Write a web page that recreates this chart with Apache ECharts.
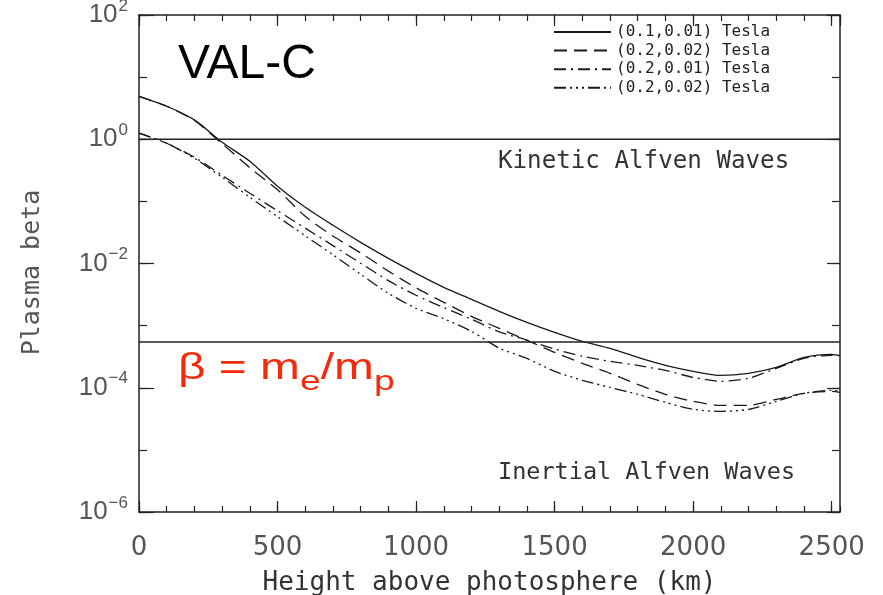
<!DOCTYPE html>
<html>
<head>
<meta charset="utf-8">
<script src="https://cdn.jsdelivr.net/npm/echarts@6/dist/echarts.min.js"></script>
<style>
  html, body { margin: 0; padding: 0; background: #fff; }
  #chart { width: 883px; height: 595px; }
</style>
</head>
<body>
<div id="chart"></div>
<script>
// Height above the photosphere (km)
const heights = [0, 100, 200, 300, 400, 500, 600, 700, 800, 900, 1000, 1100, 1200,
  1300, 1400, 1500, 1600, 1700, 1800, 1900, 2000, 2100, 2200, 2300, 2400, 2500, 2530];

// Plasma beta along the VAL-C atmosphere for each (photospheric, coronal) field pair
const beta_01_001 = [4.9, 3.4, 2.05, 0.895, 0.442, 0.175, 0.0803, 0.0412, 0.0219, 0.0121,
  0.00695, 0.00414, 0.00265, 0.0017, 0.00113, 7.8e-4, 5.58e-4, 4.31e-4, 3.08e-4, 2.29e-4,
  1.84e-4, 1.58e-4, 1.71e-4, 2.13e-4, 3.08e-4, 3.45e-4, 3.26e-4];
const beta_02_002 = [4.9, 3.4, 2.0, 0.847, 0.348, 0.154, 0.0575, 0.0277, 0.0148, 0.00755,
  0.00406, 0.00237, 0.00141, 9.06e-4, 5.8e-4, 3.71e-4, 2.47e-4, 1.71e-4, 1.13e-4, 7.83e-5,
  6.04e-5, 5.21e-5, 5.21e-5, 6.5e-5, 8.13e-5, 8.75e-5, 8.43e-5];
const beta_02_001 = [1.25, 0.862, 0.513, 0.263, 0.135, 0.0706, 0.0371, 0.0194, 0.0101, 0.00529,
  0.00308, 0.00195, 0.00127, 7.94e-4, 5.85e-4, 4.2e-4, 3.21e-4, 2.66e-4, 2.29e-4, 1.9e-4,
  1.47e-4, 1.27e-4, 1.42e-4, 2.05e-4, 2.97e-4, 3.33e-4, 3.33e-4];
const beta_02_002b = [1.25, 0.862, 0.494, 0.244, 0.1164, 0.0567, 0.0279, 0.0138, 0.0067, 0.00331,
  0.0019, 0.00129, 8.09e-4, 4.36e-4, 2.97e-4, 1.84e-4, 1.32e-4, 1.01e-4, 7.83e-5, 5.82e-5,
  4.49e-5, 4.17e-5, 4.49e-5, 6.04e-5, 8.13e-5, 9.08e-5, 8.75e-5];

const seriesNames = ['(0.1,0.01) Tesla', '(0.2,0.02) Tesla', '(0.2,0.01) Tesla', '(0.2,0.02) Tesla '];
const seriesValues = [beta_01_001, beta_02_002, beta_02_001, beta_02_002b];
const seriesDash = ['solid', [13, 7], [12, 5, 2, 5], [12, 4, 2, 4, 2, 4, 2, 4]];

// Regime boundaries: beta = 1 and beta = m_e / m_p
const betaLines = [1, 1 / 1836.15];

const xTicks = { min: 0, max: 2530, major: 500, minor: 100 };
const yTicks = { min: 1e-6, max: 1e2 };

const INK = '#222';
const GREY = '#555';

function xAxis(position, interval, tickLen, withLabels) {
  return {
    type: 'value', position: position, min: xTicks.min, max: xTicks.max, interval: interval,
    axisLine: { show: tickLen > 8, onZero: false, lineStyle: { color: INK, width: 1.5 } },
    axisTick: { show: true, inside: true, length: tickLen, lineStyle: { color: INK, width: 1.2 } },
    axisLabel: withLabels ? {
      show: true, margin: 23, fontFamily: 'DejaVu Sans', fontSize: 26, color: GREY, showMaxLabel: false,
      formatter: function (v) { return String(v); }
    } : { show: false },
    splitLine: { show: false }
  };
}

function yAxis(position, interval, tickLen, withLabels) {
  return {
    type: 'log', logBase: 10, position: position, min: yTicks.min, max: yTicks.max, interval: interval,
    axisLine: { show: tickLen > 10, onZero: false, lineStyle: { color: INK, width: 1.5 } },
    axisTick: { show: true, inside: true, length: tickLen, lineStyle: { color: INK, width: 1.2 } },
    axisLabel: withLabels ? {
      show: true, margin: 11,
      formatter: function (v) {
        const e = Math.round(Math.log10(v));
        if (e % 2 !== 0) return '';
        return '{b|10}{s|' + (e < 0 ? '\u2212' + (-e) : e) + '}';
      },
      rich: {
        b: { fontFamily: 'Liberation Sans', fontSize: 26, color: GREY },
        s: { fontFamily: 'Liberation Sans', fontSize: 17, color: GREY, padding: [0, 0, 18, 1] }
      }
    } : { show: false },
    splitLine: { show: false }
  };
}

const chart = echarts.init(document.getElementById('chart'));

const xAxes = [
  xAxis('bottom', xTicks.major, 11, true),
  xAxis('bottom', xTicks.minor, 6, false),
  xAxis('top', xTicks.major, 11, false),
  xAxis('top', xTicks.minor, 6, false)
];
Object.assign(xAxes[0], {
  name: 'Height above photosphere (km)', nameLocation: 'middle', nameGap: 58,
  nameTextStyle: { fontFamily: 'DejaVu Sans Mono', fontSize: 26, color: '#333' }
});

const yAxes = [
  yAxis('left', 2, 15, true),
  yAxis('left', 1, 8, false),
  yAxis('right', 2, 13, false),
  yAxis('right', 1, 8, false)
];
Object.assign(yAxes[0], {
  name: 'Plasma beta', nameLocation: 'middle', nameGap: 94, nameRotate: 90,
  nameTextStyle: { fontFamily: 'DejaVu Sans Mono', fontSize: 25, color: GREY, padding: [0, 18, 0, 0] }
});

const curveSeries = seriesNames.map(function (name, i) {
  return {
    type: 'line', name: name, xAxisIndex: 0, yAxisIndex: 0,
    data: heights.map(function (h, j) { return [h, seriesValues[i][j]]; }),
    symbol: 'none', showSymbol: false, smooth: 0.25,
    lineStyle: { color: '#1a1a1a', width: 1.3, type: seriesDash[i] },
    itemStyle: { color: '#1a1a1a', opacity: 0 },
    emphasis: { disabled: true }
  };
});

// Horizontal boundary lines across the full height range
const boundarySeries = betaLines.map(function (v, i) {
  return {
    type: 'line', name: 'boundary' + i, xAxisIndex: 0, yAxisIndex: 0,
    data: [[xTicks.min, v], [xTicks.max, v]],
    symbol: 'none', showSymbol: false, silent: true,
    lineStyle: { color: INK, width: 1.5, type: 'solid' },
    emphasis: { disabled: true }
  };
});

chart.setOption({
  animation: false,
  backgroundColor: '#fff',
  grid: { left: 139, top: 15, width: 701, height: 497, outerBoundsMode: 'none', containLabel: false },
  xAxis: xAxes,
  yAxis: yAxes,
  legend: {
    orient: 'vertical', left: 553, top: 24, padding: 0,
    itemWidth: 57, itemHeight: 10, itemGap: 2.6,
    selectedMode: false,
    data: seriesNames,
    itemStyle: { opacity: 0 },
    textStyle: { fontFamily: 'DejaVu Sans Mono', fontSize: 16, color: '#222' }
  },
  graphic: [
    { type: 'text', x: 178, y: 65, silent: true,
      style: { text: 'VAL-C', font: '48px "Liberation Sans"', fill: '#000', verticalAlign: 'middle' } },
    { type: 'text', x: 178, y: 369, scaleX: 1.33, silent: true,
      style: {
        text: '{n|\u03b2 = m}{s|e}{n|/m}{s|p}', verticalAlign: 'middle', fill: '#f52a0a',
        rich: {
          n: { fontFamily: 'Liberation Sans', fontSize: 36, fill: '#f52a0a' },
          s: { fontFamily: 'Liberation Sans', fontSize: 28, fill: '#f52a0a', padding: [27, 0, 0, 0] }
        }
      } },
    { type: 'text', x: 498, y: 162, silent: true,
      style: { text: 'Kinetic Alfven Waves', font: '24.2px "DejaVu Sans Mono"', fill: '#333', verticalAlign: 'middle' } },
    { type: 'text', x: 498, y: 473, silent: true,
      style: { text: 'Inertial Alfven Waves', font: '23.5px "DejaVu Sans Mono"', fill: '#333', verticalAlign: 'middle' } }
  ],
  series: curveSeries.concat(boundarySeries)
});
</script>
</body>
</html>
